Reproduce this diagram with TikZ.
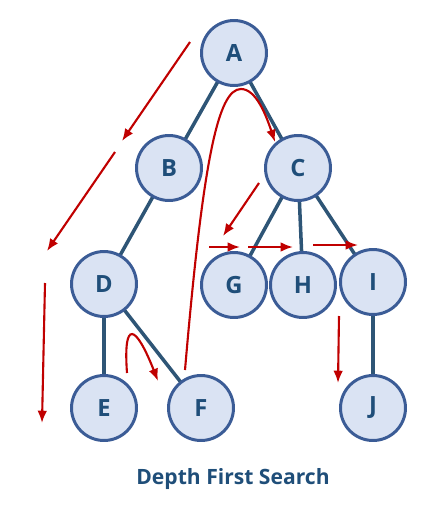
\documentclass[tikz,border=0pt]{standalone}
\usepackage{fontspec}
\setsansfont{Open Sans}
\usetikzlibrary{arrows.meta}
\definecolor{edgeblue}{HTML}{2E5576}
\definecolor{ringblue}{HTML}{3B5C96}
\definecolor{fillblue}{HTML}{DAE3F3}
\definecolor{textblue}{HTML}{1F4E79}
\definecolor{walkred}{HTML}{C00000}

\begin{document}
\begin{tikzpicture}[x=0.02cm,y=-0.02cm,
        vertex/.style={circle,draw=ringblue,line width=1.7pt,fill=fillblue,
            minimum size=1.3cm,inner sep=0pt,text=textblue,
            font=\sffamily\bfseries\fontsize{13.5}{15}\selectfont},
        tree/.style={edgeblue,line width=2pt},
        walk/.style={walkred,line width=1.2pt,-{Latex[length=7pt,width=5.5pt]}}]
        \useasboundingbox (0,0) rectangle (439,514);
        % edges first, circles on top
        \path (234,53) coordinate (pA) (169,168) coordinate (pB) (298,168) coordinate (pC);
        \draw[tree] (pA) -- (pB);
        \draw[tree] (pA) -- (pC);
        \draw[tree] (pB) -- (104,284);
        \draw[tree] (pC) -- (234,285);
        \draw[tree] (pC) -- (303,285);
        \draw[tree] (pC) -- (373,282);
        \draw[tree] (104,284) -- (104,408);
        \draw[tree] (104,284) -- (201,408);
        \draw[tree] (373,282) -- (373,408);
        % vertices
        \node[vertex] (A) at (234,53) {A};
        \node[vertex] (B) at (169,168) {B};
        \node[vertex] (C) at (298,168) {C};
        \node[vertex] (D) at (104,284) {D};
        \node[vertex] (G) at (234,285) {G};
        \node[vertex] (H) at (303,285) {H};
        \node[vertex] (I) at (373,282) {I};
        \node[vertex] (E) at (104,408) {E};
        \node[vertex] (F) at (201,408) {F};
        \node[vertex] (J) at (373,408) {J};
        % traversal order
        \draw[walk] (190,42) -- (122,141);
        \draw[walk] (115,152) -- (47,251);
        \draw[walk] (45,283) -- (42,423);
        \draw[walk] (127,373) .. controls (123,318) and (136,325) .. (158,381);
        \draw[walk] (185,370) .. controls (203,160) and (218,89) .. (241,89)
            .. controls (256,89) and (266,115) .. (275,142);
        \draw[walk] (259,183) -- (223,236);
        \draw[walk] (209,247) -- (240,247);
        \draw[walk] (248,247) -- (293,247);
        \draw[walk] (313,245) -- (358,245);
        \draw[walk] (339,316) -- (338,383);
        % caption
        \node[text=textblue,font=\sffamily\bfseries\fontsize{12}{14}\selectfont] (title) at (233,479) {Depth First Search};
\end{tikzpicture}
\end{document}
